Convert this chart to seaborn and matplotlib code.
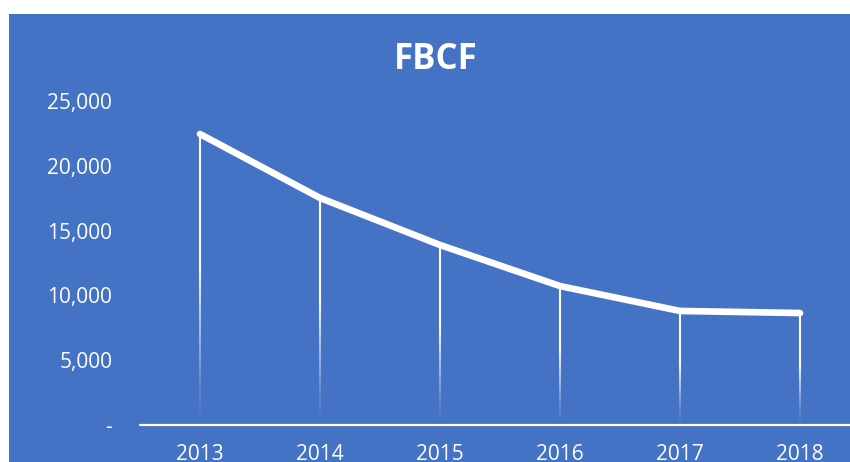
"""FBCF yearly series, drawn as a white line on a blue panel with fading drop lines."""

import matplotlib.pyplot as plt
import numpy as np
import pandas as pd
import seaborn as sns
from matplotlib.collections import LineCollection
from matplotlib.patches import Rectangle
from matplotlib.ticker import FuncFormatter

years = ["2013", "2014", "2015", "2016", "2017", "2018"]
fbcf = [22450, 17520, 13890, 10720, 8800, 8640]
y_ticks = [0, 5000, 10000, 15000, 20000, 25000]

BLUE = "#4472C4"
W, H = 850, 462

sns.set_theme(style="white")
plt.rcParams["font.family"] = ["Open Sans", "DejaVu Sans"]

df = pd.DataFrame({"year": years, "fbcf": fbcf})

fig = plt.figure(figsize=(W / 100, H / 100), dpi=100)
fig.patch.set_facecolor("white")
fig.add_artist(Rectangle((9 / W, 0), 1, (H - 14) / H, transform=fig.transFigure,
                         facecolor=BLUE, edgecolor="none", zorder=-10))

# plot area: 0 at y=425px, 25,000 at y=101px; categories span x=140..860px
ax = fig.add_axes([140 / W, (H - 425) / H, 720 / W, 324 / H])
ax.set_facecolor("none")

# drop lines fading towards the axis
segs, cols = [], []
for i, v in enumerate(fbcf):
    ys = np.linspace(0, v, 80)
    for a, b in zip(ys[:-1], ys[1:]):
        frac = (a + b) / 2 / v
        alpha = np.clip(frac / 0.55, 0, 1) ** 1.3
        segs.append([(i, a), (i, b)])
        cols.append((1, 1, 1, alpha))
ax.add_collection(LineCollection(segs, colors=cols, linewidths=1.5, zorder=2))

sns.lineplot(data=df, x="year", y="fbcf", sort=False, ax=ax, color="white",
             linewidth=4.8, zorder=3, clip_on=False,
             solid_capstyle="round", solid_joinstyle="round")

ax.axhline(0, color="white", linewidth=1.6, zorder=1, clip_on=False)

ax.set_xlim(-0.5, 5.5)
ax.set_ylim(0, 25000)
ax.set_yticks(y_ticks)
ax.yaxis.set_major_formatter(FuncFormatter(lambda v, _: "-" if v == 0 else f"{v:,.0f}"))
ax.tick_params(axis="y", length=0, pad=20, labelsize=15, labelcolor="white")
ax.tick_params(axis="x", length=0, pad=14, labelsize=15, labelcolor="white")
ax.set_xlabel("")
ax.set_ylabel("")
for s in ax.spines.values():
    s.set_visible(False)

fig.text(436 / W, 1 - 60 / H, "FBCF", ha="center", va="center",
         fontsize=25, fontweight="bold", color="white")

fig.savefig("out.png", dpi=100)
